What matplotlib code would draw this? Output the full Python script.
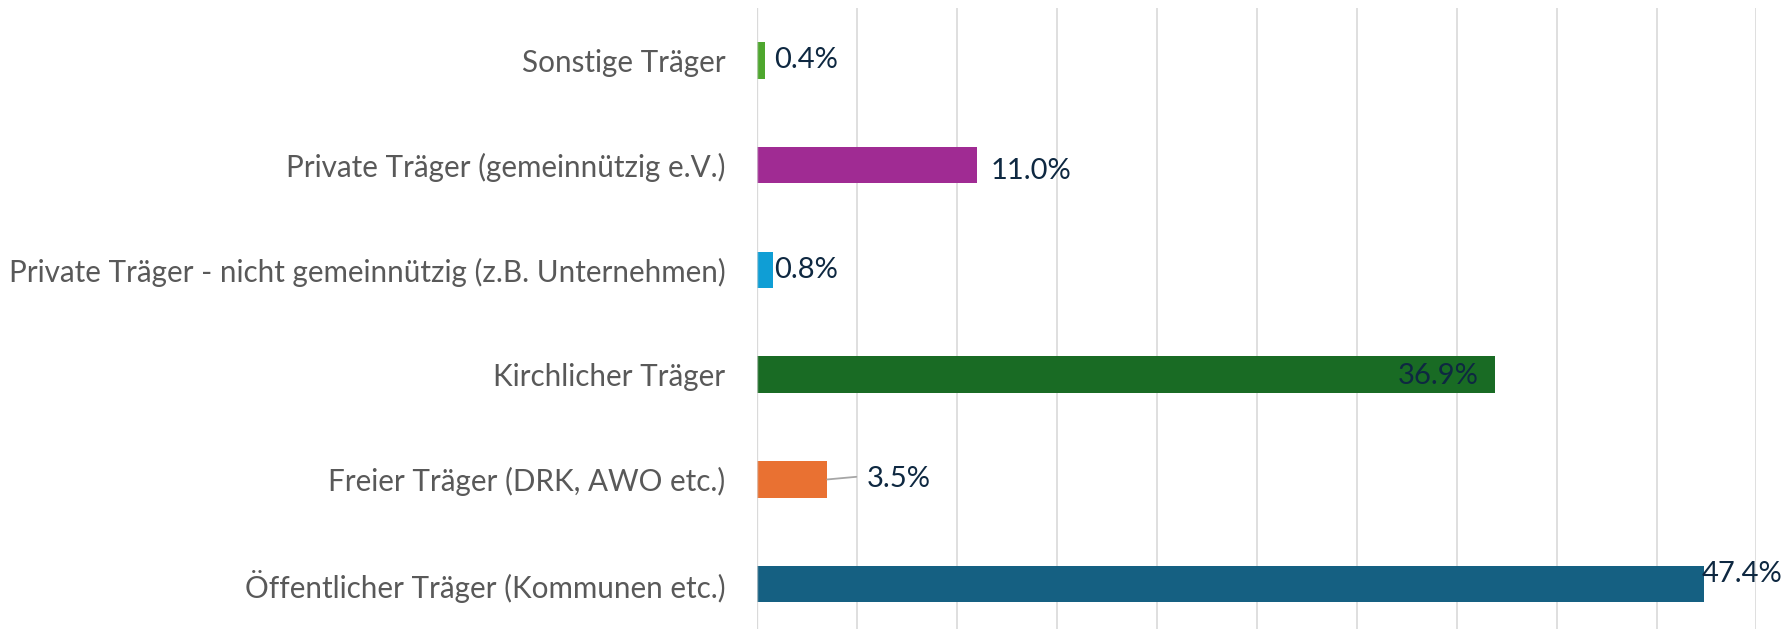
import matplotlib
matplotlib.use("Agg")
import matplotlib.pyplot as plt

# Träger-Anteile (Prozent), von unten nach oben
categories = [
    "Öffentlicher Träger (Kommunen etc.)",
    "Freier Träger (DRK, AWO etc.)",
    "Kirchlicher Träger",
    "Private Träger - nicht gemeinnützig (z.B. Unternehmen)",
    "Private Träger (gemeinnützig e.V.)",
    "Sonstige Träger",
]
shares = [47.4, 3.5, 36.9, 0.8, 11.0, 0.4]
value_labels = ["47.4%", "3.5%", "36.9%", "0.8%", "11.0%", "0.4%"]

colors = ["#156082", "#E97132", "#196B24", "#0F9ED5", "#A02B93", "#4EA72E"]
# label placement in pixels from the bar end (dy > 0 means up),
# the Excel labels were moved by hand
label_dx = [-3, 39, -16, 1, 13, 9]
label_dy = [10, 0, -1, 0, -6, 0]
label_ha = ["left", "left", "right", "left", "left", "left"]

LABEL_GREY = "#595959"
VALUE_NAVY = "#0E2841"
GRID = "#D9D9D9"

plt.rcParams["font.family"] = ["Lato", "DejaVu Sans"]

fig = plt.figure(figsize=(17.85, 6.29), dpi=100)
ax = fig.add_axes([0.4243, -0.0121, 0.5597, 0.9995])

y = range(len(categories))
ax.barh(y, shares, height=0.348, color=colors, zorder=2)
ax.axvline(0, color=GRID, linewidth=1.0, zorder=3, alpha=0.7)

for i, (v, txt) in enumerate(zip(shares, value_labels)):
    ax.annotate(txt, xy=(v, i), xytext=(label_dx[i] * 0.72, label_dy[i] * 0.72),
                textcoords="offset points", ha=label_ha[i], va="center",
                fontsize=21, color=VALUE_NAVY, zorder=4)

# leader line for the 3.5% label
ax.annotate("", xy=(3.5, 1), xytext=(4.95, 1.025),
            arrowprops=dict(arrowstyle="-", color="#A6A6A6", linewidth=1.3,
                            shrinkA=0, shrinkB=0))

ax.set_xlim(0, 50)
ax.set_ylim(-0.5, len(categories) - 0.5)
ax.set_xticks(range(0, 51, 5))
ax.set_xticklabels([])
ax.set_yticks(list(y))
ax.set_yticklabels(categories, fontsize=21.3, color=LABEL_GREY)
ax.tick_params(axis="both", length=0)
ax.tick_params(axis="y", pad=23)
ax.grid(axis="x", color=GRID, linewidth=1.2, zorder=0)
ax.set_axisbelow(True)
for s in ax.spines.values():
    s.set_visible(False)

fig.savefig("out.png", dpi=100)
